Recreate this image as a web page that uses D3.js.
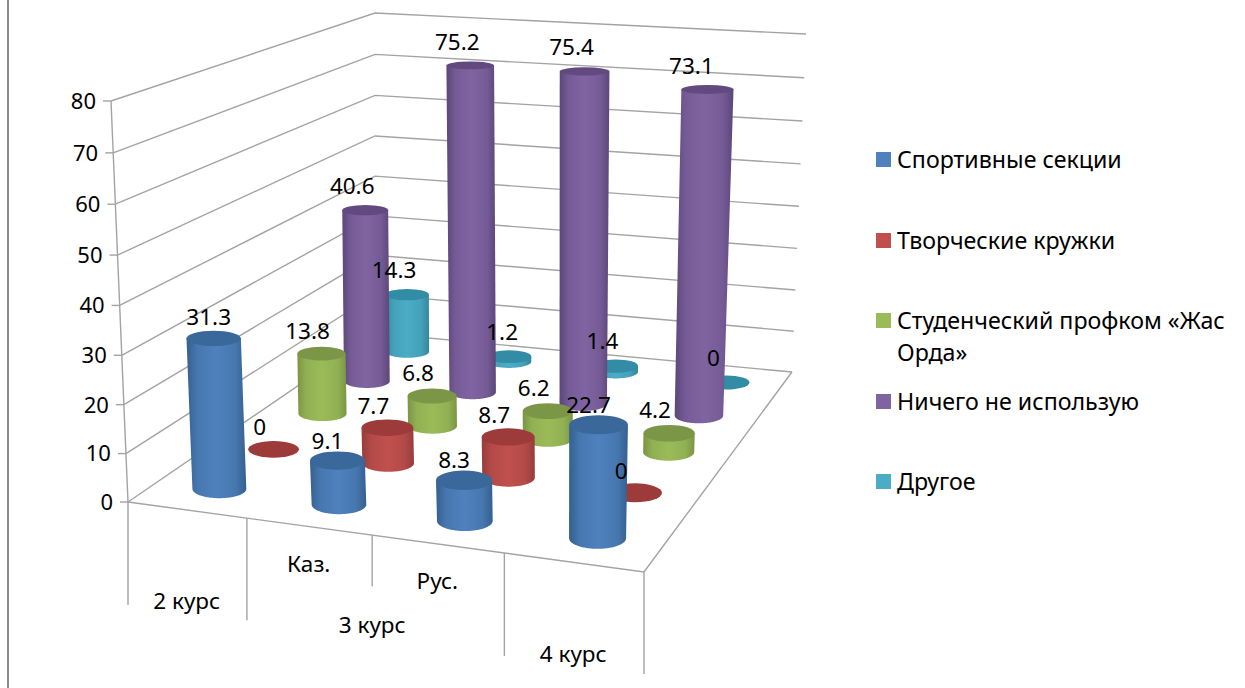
<!DOCTYPE html>
<html lang="ru"><head><meta charset="utf-8">
<style>html,body{margin:0;padding:0;background:#fff}svg{display:block}text{font-family:"Noto Sans","Open Sans",sans-serif;fill:#000}</style>
<script src="https://cdn.jsdelivr.net/npm/d3@7"></script></head><body>
<svg id="c" width="1245" height="688"></svg>
<script>
const categories=["2 курс","Каз.","Рус.","4 курс"];
const groupLabels=["2 курс","3 курс","4 курс"];
const seriesNames=["Спортивные секции","Творческие кружки","Студенческий профком «Жас Орда»","Ничего не использую","Другое"];
const sport=[31.3,9.1,8.3,22.7];
const creative=[0,7.7,8.7,0];
const profcom=[13.8,6.8,6.2,4.2];
const nothing=[40.6,75.2,75.4,73.1];
const other=[14.3,1.2,1.4,0];
const seriesValues=[sport,creative,profcom,nothing,other];
const valueTicks=[0,10,20,30,40,50,60,70,80];
const bodyColors=["#4f81bd","#c0504d","#9bbb59","#8064a2","#4bacc6"];
const edgeColors=["#35608f","#963d3a","#7a9544","#5c4679","#34869c"];
const capColors=["#3b689b","#9c3b39","#7b9646","#624a80","#338ca6"];

const svg=d3.select("#c");
const floorQuad=[[128,502],[644,572],[792,372],[375,333]];
const topQuad=[[111,101],[654,148],[806,34],[375,13]];
function homography(q){
  const [[x0,y0],[x1,y1],[x2,y2],[x3,y3]]=q;
  const dx1=x1-x2,dx2=x3-x2,sx=x0-x1+x2-x3,dy1=y1-y2,dy2=y3-y2,sy=y0-y1+y2-y3;
  const d=dx1*dy2-dx2*dy1,g=(sx*dy2-dx2*sy)/d,h=(dx1*sy-sx*dy1)/d;
  const a=x1-x0+g*x1,b=x3-x0+h*x3,c=x0,e=y1-y0+g*y1,f=y3-y0+h*y3,i=y0;
  return (u,v)=>{const w=g*u+h*v+1;return [(a*u+b*v+c)/w,(e*u+f*v+i)/w];};
}
const Hf=homography(floorQuad),Ht=homography(topQuad);
const uScale=d3.scaleBand().domain(categories.map((_,i)=>i)).range([0,1]);
const vScale=d3.scaleBand().domain(seriesNames).range([0,1]);
const tScale=d3.scaleLinear().domain([0,80]).range([0,1]);
const persp=t=>t/(1.04-0.04*t);
function P(u,v,t){const a=Hf(u,v),b=Ht(u,v),s=persp(t);return [a[0]+(b[0]-a[0])*s,a[1]+(b[1]-a[1])*s];}

// left border
svg.append("line").attr("x1",8).attr("x2",8).attr("y1",0).attr("y2",688).attr("stroke","#8c8c8c").attr("stroke-width",2);

const gridColor="#a3a3a3";
const line=d3.line();
const grid=svg.append("g").attr("fill","none").attr("stroke",gridColor).attr("stroke-width",1.4);
valueTicks.forEach(val=>{
  const t=tScale(val);
  grid.append("path").attr("d",line([P(0,0,t),P(0,1,t),P(1,1,t)]));
  const a=P(0,0,t);
  grid.append("line").attr("x1",a[0]-8).attr("x2",a[0]).attr("y1",a[1]).attr("y2",a[1]);
  svg.append("text").attr("x",a[0]-15).attr("y",a[1]).attr("dy","0.36em").attr("text-anchor","end").attr("font-size",22).text(val);
});
grid.append("path").attr("d",line([P(0,0,0),P(1,0,0),P(1,1,0)]));
grid.append("path").attr("d",line([P(0,0,0),P(0,0,1)]));
// multi-level category axis
const dividers=[[0,103],[0.25,102],[0.5,51],[0.75,103],[1,102]];
dividers.forEach(([u,len])=>{const a=P(u,0,0);grid.append("line").attr("x1",a[0]).attr("x2",a[0]).attr("y1",a[1]).attr("y2",a[1]+len);});
function axisLabel(txt,u,dy){const a=P(u,0,0);svg.append("text").attr("x",a[0]).attr("y",a[1]+dy).attr("dy","0.36em").attr("text-anchor","middle").attr("font-size",22.5).text(txt);}
const level1=[categories[1],categories[2]];
level1.forEach((c,i)=>axisLabel(c,uScale(i+1)+uScale.bandwidth()/2,37));
axisLabel(groupLabels[0],uScale(0)+uScale.bandwidth()/2,91);
axisLabel(groupLabels[1],0.5,90);
axisLabel(groupLabels[2],uScale(3)+uScale.bandwidth()/2,92);

// gradients
const defs=svg.append("defs");
bodyColors.forEach((c,i)=>{
  const g=defs.append("linearGradient").attr("id","g"+i);
  [[0,edgeColors[i]],[0.18,d3.interpolateRgb(edgeColors[i],c)(0.7)],[0.5,c],[0.82,d3.interpolateRgb(edgeColors[i],c)(0.7)],[1,edgeColors[i]]]
   .forEach(([o,col])=>g.append("stop").attr("offset",o).attr("stop-color",col));
});

// cylinders: level ellipses sized from the projected footprint
const ru=0.049,rv=0.05,N=72,uShift=0.007;
const marks=[];
seriesValues.forEach((vals,j)=>vals.forEach((val,i)=>marks.push({i,j,val})));
marks.sort((a,b)=>b.j-a.j||a.i-b.i);
const labelOffset=[[-10,-20],[-14,-22],[-14,-23],[-13,-24],[-13,-25]];
const labels=[];
marks.forEach(m=>{
  const cu=uScale(m.i)+uScale.bandwidth()/2+uShift,cv=vScale(seriesNames[m.j])+vScale.bandwidth()/2,t=tScale(m.val);
  const disc=tt=>{
    const r=d3.range(N).map(k=>{const a=2*Math.PI*k/N;return P(cu+ru*Math.cos(a),cv+rv*Math.sin(a),tt);});
    const c=P(cu,cv,tt);
    const [x0,x1]=d3.extent(r,p=>p[0]),[y0,y1]=d3.extent(r,p=>p[1]);
    return {cx:c[0],cy:c[1],rx:(x1-x0)/2,ry:(y1-y0)/2*0.85};
  };
  const bot=disc(0),top=disc(t);
  if(m.val>0){
    const pts=[[top.cx-top.rx,top.cy]];
    d3.range(N+1).forEach(k=>{const a=Math.PI-Math.PI*k/N;pts.push([bot.cx+bot.rx*Math.cos(a),bot.cy+bot.ry*Math.sin(a)]);});
    pts.push([top.cx+top.rx,top.cy]);
    svg.append("path").attr("d",line(pts)+"Z").attr("fill",`url(#g${m.j})`);
  }
  svg.append("ellipse").attr("cx",top.cx).attr("cy",top.cy).attr("rx",top.rx).attr("ry",top.ry).attr("fill",capColors[m.j]);
  const extra=(m.j===0&&m.i===0)?[5,-1]:(m.j===4&&m.i===1)?[6,0]:(m.j===3&&m.i===3)?[-3,0]:[0,0];
  labels.push({x:top.cx+labelOffset[m.j][0]+extra[0],y:top.cy+labelOffset[m.j][1]+extra[1],val:m.val});
});
labels.forEach(l=>svg.append("text").attr("x",l.x).attr("y",l.y).attr("dy","0.36em").attr("text-anchor","middle").attr("font-size",22.5).text(l.val));

// legend
const legendY=[152,233,313,394,474];
seriesNames.forEach((s,i)=>{
  svg.append("rect").attr("x",876).attr("y",legendY[i]).attr("width",15).attr("height",15).attr("fill",bodyColors[i]);
  const tx=svg.append("text").attr("x",897).attr("y",legendY[i]+8).attr("font-size",23.2);
  const parts=s.includes("Жас")?["Студенческий профком «Жас","Орда»"]:[s];
  parts.forEach((p,k)=>tx.append("tspan").attr("x",897).attr("dy",k?"32":"0.36em").text(p));
});
</script></body></html>
